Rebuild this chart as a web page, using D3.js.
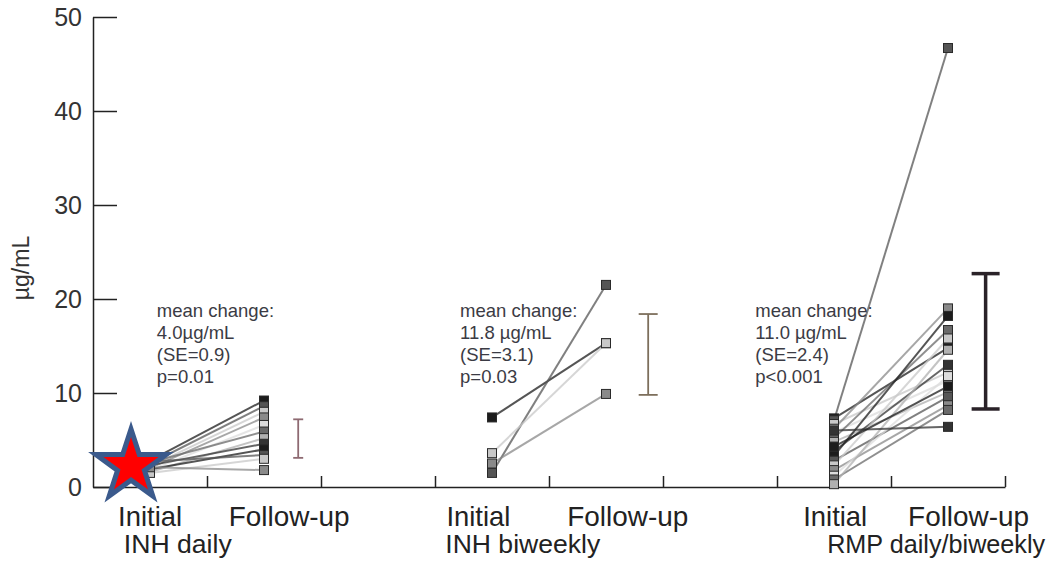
<!DOCTYPE html>
<html>
<head>
<meta charset="utf-8">
<script src="https://cdn.jsdelivr.net/npm/d3@7"></script>
<style>
  body { margin: 0; background: #fff; }
  #graph_box { width: 1055px; height: 563px; }
  .tick text { font-family: "Liberation Sans", Arial, sans-serif; }
</style>
</head>
<body>
<div id="graph_box"></div>
<script>
// groups and time points along the x axis
const groups = ["INH daily", "INH biweekly", "RMP daily/biweekly"];
const timepoints = ["Initial", "Follow-up"];
const yTicks = [0, 10, 20, 30, 40, 50];

// serum levels (µg/mL), one entry per patient
const inhDailyInitial = [2.8, 2.5, 2.2, 2.0, 1.8, 2.6, 1.6, 2.3, 1.9, 2.7, 1.5, 2.1];
const inhDailyFollowUp = [9.2, 8.6, 8.0, 7.4, 6.6, 5.9, 5.2, 4.6, 4.0, 3.4, 3.0, 1.8];

const inhBiweeklyInitial = [7.4, 1.5, 3.6, 2.5];
const inhBiweeklyFollowUp = [15.3, 21.5, 15.3, 9.9];

const rmpInitial = [7.3, 7.1, 6.7, 6.2, 5.8, 5.2, 4.8, 3.8, 3.3, 2.8, 2.3, 1.8, 1.2, 0.8, 0.3, 6.0, 4.3];
const rmpFollowUp = [14.8, 46.7, 12.2, 19.0, 11.3, 16.7, 10.1, 13.0, 18.2, 9.6, 15.8, 8.7, 11.8, 8.2, 14.6, 6.4, 10.7];

// mean change bars (low / high ends)
const barLow = [3.1, 9.8, 8.3];
const barHigh = [7.2, 18.4, 22.7];

// annotation texts
const meanChange = ["4.0µg/mL", "11.8 µg/mL", "11.0 µg/mL"];
const seText = ["(SE=0.9)", "(SE=3.1)", "(SE=2.4)"];
const pText = ["p=0.01", "p=0.03", "p<0.001"];

const pairs = [
  [inhDailyInitial, inhDailyFollowUp],
  [inhBiweeklyInitial, inhBiweeklyFollowUp],
  [rmpInitial, rmpFollowUp]
];

// grey tones for the patient lines
const tones = ["#1c1c1c", "#555", "#c8c8c8", "#8a8a8a", "#dcdcdc", "#6a6a6a", "#b0b0b0", "#333"];
const barColors = ["#8e6a72", "#7d6f5c", "#2a2228"];

const margin = { top: 17, right: 50, bottom: 76, left: 93 },
    width = 1055 - margin.left - margin.right,
    height = 563 - margin.top - margin.bottom;

const svg = d3.select("#graph_box")
    .append("svg")
    .attr("width", 1055)
    .attr("height", 563)
    .append("g")
    .attr("transform", `translate(${margin.left},${margin.top})`);

const x = d3.scaleLinear().domain([0, 8]).range([0, 912]);
const y = d3.scaleLinear().domain([0, 50]).range([height, 0]);

// y axis, ticks pointing inward
const yAxis = svg.append("g")
    .call(d3.axisLeft(y).tickValues(yTicks).tickSizeInner(-24).tickSizeOuter(0).tickPadding(11));
yAxis.select(".domain").attr("stroke", "#222").attr("stroke-width", 1.5);
yAxis.selectAll(".tick line").attr("stroke", "#222").attr("stroke-width", 1.5);
yAxis.selectAll(".tick text").style("font-size", "25px").attr("fill", "#333");

// x axis with short upward ticks
const xAxis = svg.append("g")
    .attr("transform", "translate(0," + height + ")")
    .call(d3.axisBottom(x).tickValues(d3.range(1, 9)).tickSizeInner(-11).tickSizeOuter(0).tickFormat(""));
xAxis.select(".domain").attr("stroke", "#222").attr("stroke-width", 1.5);
xAxis.selectAll(".tick line").attr("stroke", "#222").attr("stroke-width", 1.5);

svg.append("text")
    .attr("transform", "rotate(-90)")
    .attr("x", -(268 - margin.top))
    .attr("y", -64)
    .style("text-anchor", "middle")
    .style("font-family", "Liberation Sans, Arial, sans-serif")
    .style("font-size", "23px")
    .attr("fill", "#333")
    .text("µg/mL");

// patient lines + squares
pairs.forEach(function (p, g) {
    const rows = p[0].map(function (v, i) { return { a: v, b: p[1][i], i: i }; });
    const x0 = x(3 * g + 0.5), x1 = x(3 * g + 1.5);
    const grp = svg.append("g");
    grp.selectAll("line")
        .data(rows)
        .enter()
        .append("line")
        .attr("x1", x0).attr("x2", x1)
        .attr("y1", function (d) { return y(d.a); })
        .attr("y2", function (d) { return y(d.b); })
        .attr("stroke", function (d) { return tones[d.i % tones.length]; })
        .attr("stroke-width", 2)
        .attr("stroke-opacity", 0.75);
    const s = 9;
    [["a", x0], ["b", x1]].forEach(function (k) {
        grp.selectAll("rect." + k[0])
            .data(rows)
            .enter()
            .append("rect")
            .attr("class", k[0])
            .attr("x", k[1] - s / 2)
            .attr("y", function (d) { return y(d[k[0]]) - s / 2; })
            .attr("width", s).attr("height", s)
            .attr("fill", function (d) { return tones[d.i % tones.length]; })
            .attr("stroke", "#2a2a2a")
            .attr("stroke-width", 1);
    });
});

// mean change bars
const barAt = [1.8, 4.87, 7.83];
const capW = [10, 19, 28];
groups.forEach(function (gName, g) {
    const bx = x(barAt[g]);
    const b = svg.append("g")
        .attr("stroke", barColors[g])
        .attr("stroke-width", g === 2 ? 3.5 : 1.8);
    b.append("line").attr("x1", bx).attr("x2", bx).attr("y1", y(barLow[g])).attr("y2", y(barHigh[g]));
    [barLow[g], barHigh[g]].forEach(function (v) {
        b.append("line").attr("x1", bx - capW[g] / 2).attr("x2", bx + capW[g] / 2)
            .attr("y1", y(v)).attr("y2", y(v));
    });
});

// annotation blocks
const noteAt = [0.56, 3.22, 5.81];
groups.forEach(function (gName, g) {
    const t = svg.append("text")
        .attr("x", x(noteAt[g]))
        .attr("y", y(18.1))
        .style("font-family", "Liberation Sans, Arial, sans-serif")
        .style("font-size", "18.5px")
        .attr("fill", "#3b3b44");
    ["mean change:", meanChange[g], seText[g], pText[g]].forEach(function (line, k) {
        t.append("tspan").attr("x", x(noteAt[g])).attr("dy", k === 0 ? 0 : 22.2).text(line);
    });
});

// time point and group labels (condensed look forced with textLength)
const labelFont = "'Liberation Sans', Arial, sans-serif";
const tpStart = [[0.22, 1.19], [3.1, 4.16], [6.23, 7.15]];
const tpWidth = [64, 121];
timepoints.forEach(function (tp, k) {
    groups.forEach(function (gName, g) {
        svg.append("text")
            .attr("x", x(tpStart[g][k]))
            .attr("y", height + 39)
            .attr("textLength", tpWidth[k])
            .attr("lengthAdjust", "spacingAndGlyphs")
            .style("font-family", labelFont)
            .style("font-size", "28px")
            .attr("fill", "#222")
            .text(tp);
    });
});
const groupAt = [0.27, 3.09, 6.44];
const groupWidth = [108, 155, 218];
groups.forEach(function (gName, g) {
    svg.append("text")
        .attr("x", x(groupAt[g]))
        .attr("y", height + 66)
        .attr("textLength", groupWidth[g])
        .attr("lengthAdjust", "spacingAndGlyphs")
        .style("font-family", labelFont)
        .style("font-size", "26px")
        .attr("fill", "#222")
        .text(gName);
});

// red star marker over the first group
svg.append("path")
    .attr("d", d3.symbol().type(d3.symbolStar).size(37 * 37 / 0.8908130915292852)())
    .attr("transform", "translate(" + (131 - margin.left) + "," + (466 - margin.top) + ")")
    .attr("fill", "#ff0000")
    .attr("stroke", "#3b5a8c")
    .attr("stroke-width", 5)
    .attr("stroke-linejoin", "miter");
</script>
</body>
</html>
